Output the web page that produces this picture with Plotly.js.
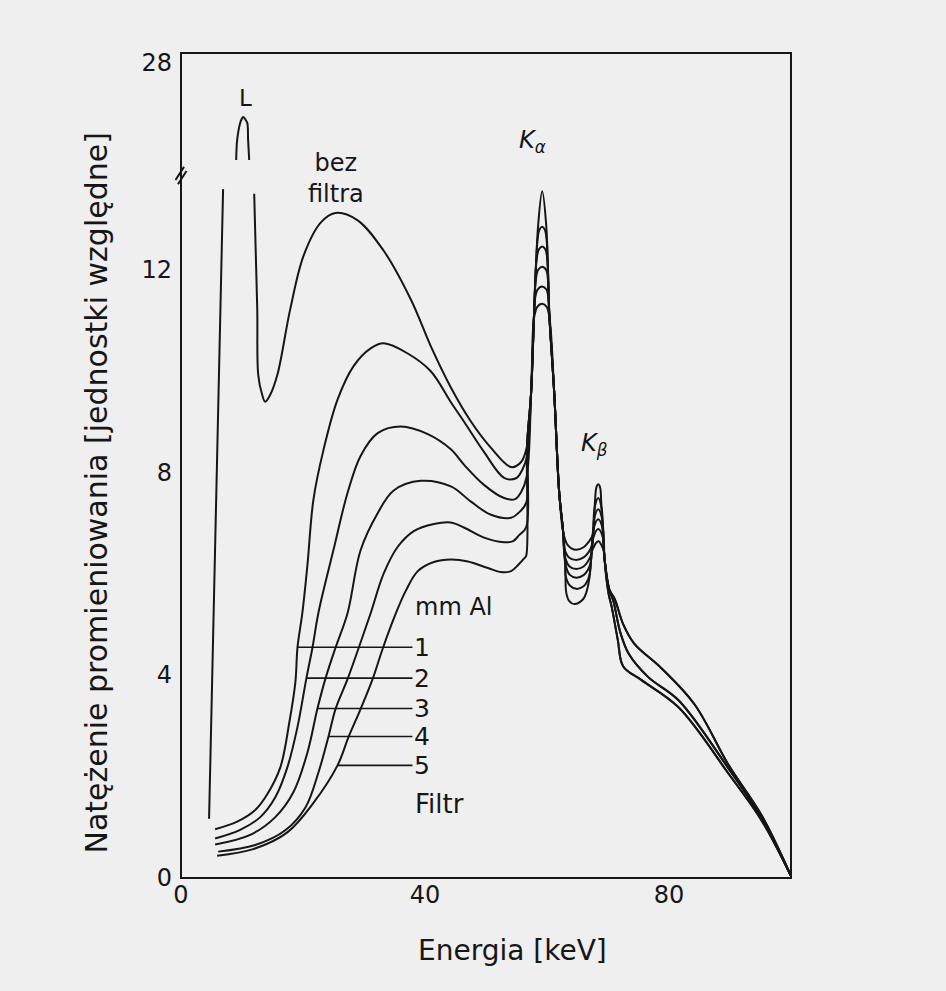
<!DOCTYPE html>
<html>
<head>
<meta charset="utf-8">
<script src="https://cdn.plot.ly/plotly-3.0.1.min.js"></script>
<style>html,body{margin:0;padding:0;background:#efefef;}#chart{width:946px;height:991px;}</style>
</head>
<body>
<div id="chart"></div>
<script>
// Energy axis (keV) and relative intensity
var bezX = [4.6,6.9,null,9.05,9.21,9.7,9.95,10.2,10.5,10.86,11.0,11.18,null,12.0,12.5,12.66,13.3,13.8,14.6,15.8,17.9,20.1,22.9,25.3,28.9,33.2,37.7,41.0,44.24,47.53,50.82,54.11,55.76,56.7,57.4,57.89,58.55,59.21,59.87,60.36,61.18,62.0,62.66,63.3,64.0,64.8,66.0,66.8,67.52,67.85,68.1,68.4,68.7,68.9,69.4,70.2,71.1,72.5,74.3,78.8,84.2,89.8,95.2,100];
var bezY = [1.17,13.58,null,14.0,16.9,19.34,19.9,20.2,19.9,19.34,16.9,14.0,null,13.49,11.22,9.92,9.53,9.39,9.52,9.92,11.21,12.27,12.92,13.11,12.97,12.37,11.4,10.47,9.67,9.0,8.48,8.1,8.2,8.5,9.58,11.15,12.87,13.54,12.87,11.15,9.57,7.6,6.81,6.58,6.5,6.47,6.52,6.62,6.77,7.4,7.7,7.76,7.7,7.39,6.34,5.69,5.5,5.0,4.62,4.13,3.42,2.22,1.23,0.04];

var f1X = [5.59,9.21,12.17,14.14,16.28,17.76,18.75,19.1,19.9,20.72,21.71,23.36,25.66,28.29,31.09,33.22,37.17,40.95,44.24,46.38,49.67,52.96,54.93,55.92,56.7,57.4,57.89,58.43,58.75,59.21,59.65,59.96,60.36,61.18,62.0,62.66,62.83,63.6,64.8,66.0,66.8,67.4,67.6,67.8,68.4,68.95,69.4,70.2,71.1,72.5,74.3,78.8,84.2,89.8,95.2,100];
var f1Y = [0.96,1.11,1.34,1.65,2.18,3.07,3.86,4.55,5.23,6.16,7.46,8.44,9.43,10.09,10.44,10.54,10.34,9.99,9.38,9.0,8.4,7.89,7.88,8.04,8.3,9.58,11.15,12.55,12.78,12.84,12.78,12.55,11.15,9.57,7.6,6.81,6.5,6.32,6.27,6.32,6.42,6.57,6.9,7.29,7.49,7.29,6.34,5.69,5.5,5.0,4.62,4.13,3.42,2.22,1.23,0.04];

var f2X = [5.59,9.7,13.0,15.46,17.43,19.08,20.56,21.55,22.53,25.0,27.3,29.44,32.24,36.02,40.46,44.24,46.38,49.67,52.96,54.77,55.76,56.65,57.4,57.89,58.27,58.65,59.21,59.75,60.08,60.36,61.18,62.0,62.66,62.92,63.7,64.8,66.0,66.7,67.29,67.6,67.7,68.4,69.05,69.4,70.2,70.9,72.0,73.4,76.6,81.6,89.8,95.2,100];
var f2Y = [0.78,0.95,1.2,1.59,2.18,2.97,3.94,4.54,5.23,6.47,7.59,8.32,8.77,8.9,8.75,8.45,8.15,7.75,7.49,7.47,7.61,7.9,9.58,11.15,12.15,12.39,12.45,12.39,12.15,11.15,9.57,7.6,6.81,6.35,6.14,6.09,6.14,6.24,6.39,6.9,7.07,7.27,7.07,6.34,5.69,5.45,4.85,4.42,3.96,3.5,2.15,1.17,0.04];

var f3X = [5.59,11.35,15.46,18.42,20.72,22.37,23.68,25.33,27.3,29.44,32.24,34.87,39.31,44.24,47.53,50.82,54.11,55.26,56.6,56.74,57.4,57.89,58.12,58.55,59.21,59.85,60.19,60.36,61.18,62.0,62.66,63.0,63.7,64.8,66.0,66.7,67.17,67.3,67.61,68.4,69.15,69.4,70.2,70.9,72.0,73.4,76.6,81.6,89.8,95.2,100];
var f3Y = [0.66,0.85,1.2,1.69,2.47,3.34,3.93,4.54,5.22,6.46,7.19,7.64,7.83,7.72,7.42,7.16,7.1,7.19,7.4,8.53,9.58,11.15,11.75,11.99,12.05,11.99,11.75,11.15,9.57,7.6,6.81,6.2,5.98,5.92,5.97,6.07,6.22,6.4,6.87,7.07,6.87,6.34,5.69,5.45,4.85,4.42,3.96,3.5,2.15,1.17,0.04];

var f4X = [6.09,12.17,17.1,20.4,22.53,24.18,25.33,27.3,29.11,31.09,33.22,35.53,38.16,41.45,44.24,46.38,49.67,52.96,54.44,55.43,56.58,56.74,57.4,57.89,57.97,58.45,59.21,59.9,60.3,60.36,61.18,62.0,62.66,63.0,63.07,63.8,64.8,66.0,66.6,67.01,67.3,67.52,68.4,69.24,69.4,70.1,70.6,71.6,72.5,75.5,81.6,89.8,95.2,100];
var f4Y = [0.52,0.65,0.94,1.39,2.08,2.79,3.33,3.92,4.53,5.22,6.0,6.53,6.84,6.98,7.01,6.91,6.71,6.62,6.64,6.76,6.91,8.53,9.58,11.15,11.36,11.6,11.66,11.6,11.36,11.15,9.57,7.6,6.81,6.2,5.95,5.76,5.7,5.75,5.85,6.0,6.4,6.68,6.88,6.68,6.34,5.6,5.35,4.7,4.17,3.9,3.36,2.05,1.13,0.04];

var f5X = [5.92,11.84,17.43,21.71,25.66,27.47,29.44,31.41,33.06,35.2,36.84,38.82,41.45,44.24,47.04,50.33,52.47,54.11,55.26,56.25,56.58,56.74,57.4,57.85,58.4,59.21,59.95,60.43,61.18,62.0,62.66,63.0,63.16,63.65,64.5,65.95,66.5,66.94,67.3,67.35,68.4,69.38,69.4,70.1,70.6,71.6,72.5,75.5,81.6,89.8,95.2,100];
var f5Y = [0.44,0.57,0.9,1.48,2.22,2.78,3.33,3.92,4.52,5.21,5.66,6.05,6.23,6.28,6.24,6.11,6.03,6.05,6.17,6.3,6.35,8.53,9.58,11.02,11.26,11.32,11.26,11.02,9.57,7.6,6.81,6.2,5.62,5.46,5.4,5.5,5.65,5.9,6.4,6.44,6.64,6.42,6.34,5.6,5.35,4.7,4.17,3.9,3.36,2.05,1.13,0.04];

var filterLabels = ['1','2','3','4','5'];
var leaderY = [4.55, 3.94, 3.34, 2.79, 2.22];
var labelX = 39.5;

var xTicks = [0, 40, 80];
var yTicksLow = [0, 4, 8, 12];
var yTicksHigh = [28];

var INK = '#161616';
var FONT = 'DejaVu Sans, Liberation Sans, sans-serif';

function line(x, y, ya) {
  return {x: x, y: y, yaxis: ya || 'y', type: 'scatter', mode: 'lines',
          line: {color: INK, width: 2, shape: 'spline', smoothing: 1.0},
          connectgaps: false, hoverinfo: 'skip', showlegend: false};
}
var data = [
  line(bezX, bezY), line(bezX, bezY, 'y2'),
  line(f1X, f1Y), line(f2X, f2Y), line(f3X, f3Y), line(f4X, f4Y), line(f5X, f5Y)
];

// find where each filtered curve crosses its leader height (rising part)
function crossX(X, Y, y0) {
  for (var i = 0; i < X.length - 1; i++) {
    if (Y[i] <= y0 && Y[i + 1] >= y0) {
      return X[i] + (X[i + 1] - X[i]) * (y0 - Y[i]) / (Y[i + 1] - Y[i]);
    }
  }
  return X[0];
}
var curves = [[f1X, f1Y], [f2X, f2Y], [f3X, f3Y], [f4X, f4Y], [f5X, f5Y]];

var ann = [];
curves.forEach(function (c, i) {
  ann.push({x: crossX(c[0], c[1], leaderY[i]), y: leaderY[i], xref: 'x', yref: 'y',
            ax: labelX, ay: leaderY[i], axref: 'x', ayref: 'y',
            text: filterLabels[i], showarrow: true, arrowhead: 0, arrowwidth: 1.6,
            arrowcolor: INK, standoff: 0, startstandoff: 0,
            font: {family: FONT, size: 25, color: INK}});
});
function label(x, y, xr, yr, text, size, extra) {
  var a = {x: x, y: y, xref: xr, yref: yr, text: text, showarrow: false,
           xanchor: 'center', yanchor: 'middle', font: {family: FONT, size: size, color: INK}};
  for (var k in (extra || {})) a[k] = extra[k];
  return a;
}
ann.push(label(44.6, 5.34, 'x', 'y', 'mm Al', 24));
ann.push(label(42.3, 1.45, 'x', 'y', 'Filtr', 26));
ann.push(label(67.8, 8.55, 'x', 'y', '<i>K</i><sub><i>β</i></sub>', 24));
ann.push(label(57.6, 16.6, 'x', 'y2', '<i>K</i><sub><i>α</i></sub>', 24));
ann.push(label(10.5, 22.9, 'x', 'y2', 'L', 23));
ann.push(label(0.254, 0.848, 'paper', 'paper', 'bez<br>filtra', 24));
ann.push(label(0.544, -0.0873, 'paper', 'paper', 'Energia [keV]', 28));
ann.push(label(-0.138, 0.467, 'paper', 'paper', 'Natężenie promieniowania [jednostki względne]', 30,
               {textangle: -90}));

var shapes = [
  {type: 'rect', xref: 'paper', yref: 'paper', x0: 0, x1: 1, y0: 0, y1: 1,
   line: {color: INK, width: 2}},
  {type: 'line', xref: 'paper', yref: 'paper', x0: -0.009, y0: 0.846, x1: 0.005, y1: 0.862,
   line: {color: INK, width: 2}},
  {type: 'line', xref: 'paper', yref: 'paper', x0: -0.005, y0: 0.841, x1: 0.009, y1: 0.857,
   line: {color: INK, width: 2}}
];

var axFont = {family: FONT, size: 24, color: INK};
var layout = {
  width: 946, height: 991,
  margin: {l: 181, r: 155, t: 53, b: 113},
  paper_bgcolor: '#efefef', plot_bgcolor: '#efefef',
  showlegend: false,
  xaxis: {domain: [0, 1], range: [0, 100], tickvals: xTicks, ticks: '', showgrid: false,
          zeroline: false, showline: false, tickfont: axFont, ticklabelstandoff: 0, anchor: 'y'},
  yaxis: {domain: [0, 0.8436], range: [0, 13.72], tickvals: yTicksLow, ticks: '', showgrid: false,
          zeroline: false, showline: false, tickfont: axFont, ticklabelstandoff: 8, anchor: 'x'},
  yaxis2: {domain: [0.8703, 1], range: [14, 29.4], tickvals: yTicksHigh, ticks: '', showgrid: false,
           zeroline: false, showline: false, tickfont: axFont, ticklabelstandoff: 8, anchor: 'x'},
  annotations: ann,
  shapes: shapes
};
Plotly.newPlot('chart', data, layout, {displayModeBar: false, staticPlot: true});
</script>
</body>
</html>
